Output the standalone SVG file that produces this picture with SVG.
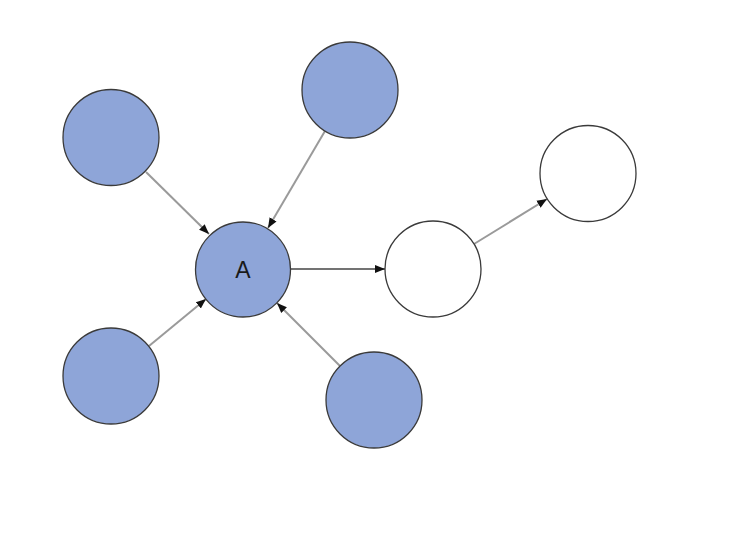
<svg xmlns="http://www.w3.org/2000/svg" width="730" height="543" viewBox="0 0 730 543">
<style>
.blue{fill:#8ea5d8;stroke:#3a3a3a;stroke-width:1.3}
.white{fill:#ffffff;stroke:#3a3a3a;stroke-width:1.3}
.e{stroke:#9a9a9a;stroke-width:2;fill:none;marker-end:url(#ah)}
.ed{stroke:#444;stroke-width:1.3;fill:none;marker-end:url(#ah)}
.lbl{font-family:"Liberation Sans",Arial,sans-serif;font-size:23px;fill:#1a1a1a;text-anchor:middle}
</style>
<defs>
<marker id="ah" viewBox="0 0 10 10" refX="10" refY="5" markerWidth="10" markerHeight="10" markerUnits="userSpaceOnUse" orient="auto">
<path d="M0,1 L10,5 L0,9 z" fill="#111"/>
</marker>
</defs>
<rect width="730" height="543" fill="#ffffff"/>
<g id="connectors">
<line class="e" x1="146" y1="172" x2="209" y2="234"/>
<line class="e" x1="325" y1="131" x2="268" y2="228"/>
<line class="e" x1="149" y1="346" x2="206" y2="299"/>
<line class="e" x1="340" y1="366" x2="277" y2="303"/>
<line class="ed" x1="291" y1="269" x2="385" y2="269"/>
<line class="e" x1="474" y1="244" x2="547" y2="199"/>
</g>
<g id="nodeA"><circle class="blue" cx="243" cy="269.5" r="47.5"/><text class="lbl" x="243" y="278">A</text></g>
<g id="nodeTL"><circle class="blue" cx="111" cy="137.5" r="48"/></g>
<g id="nodeTop"><circle class="blue" cx="350" cy="90" r="48"/></g>
<g id="nodeBL"><circle class="blue" cx="111" cy="376" r="48"/></g>
<g id="nodeBR"><circle class="blue" cx="374" cy="400" r="48"/></g>
<g id="nodeW1"><circle class="white" cx="433" cy="269" r="48"/></g>
<g id="nodeW2"><circle class="white" cx="588" cy="173.5" r="48"/></g>
</svg>
